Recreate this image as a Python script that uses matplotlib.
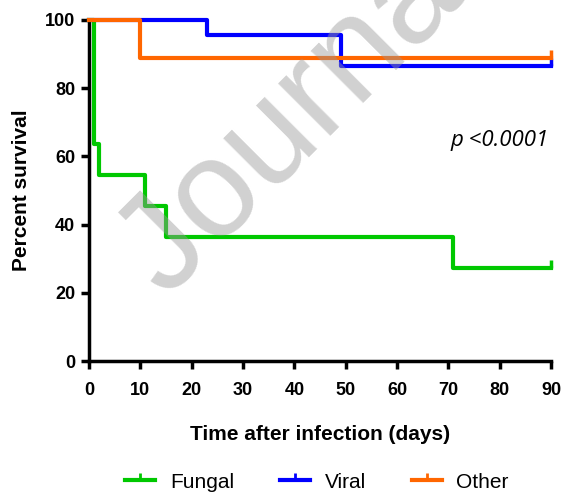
import matplotlib
matplotlib.use("Agg")
import matplotlib.pyplot as plt
from matplotlib.lines import Line2D

# Kaplan-Meier step data (time in days, percent survival)
fungal_t = [0, 1, 2, 11, 15, 71, 90]
fungal_s = [100, 63.6, 54.5, 45.5, 36.4, 27.3, 27.3]
viral_t = [0, 23, 49, 90]
viral_s = [100, 95.5, 86.4, 86.4]
other_t = [0, 10, 90]
other_s = [100, 88.9, 88.9]

series = [("Fungal", fungal_t, fungal_s, "#00c800"),
          ("Viral", viral_t, viral_s, "#0000ff"),
          ("Other", other_t, other_s, "#ff6600")]

xticks = [0, 10, 20, 30, 40, 50, 60, 70, 80, 90]
yticks = [0, 20, 40, 60, 80, 100]

fig = plt.figure(figsize=(5.63, 4.95), dpi=100)
ax = fig.add_axes([89/563, 1-361/495, (551-89)/563, (361-20)/495])

for name, t, s, c in series:
    ax.step(t, s, where="post", color=c, lw=3, clip_on=False, zorder=3)
    ax.plot([t[-1]], [s[-1]], marker=2, color=c, ms=6, mew=2.5,
            clip_on=False, zorder=3)

ax.set_xlim(0, 90)
ax.set_ylim(0, 100)
ax.set_xticks(xticks)
ax.set_yticks(yticks)
for sp in ["top", "right"]:
    ax.spines[sp].set_visible(False)
for sp in ["left", "bottom"]:
    ax.spines[sp].set_linewidth(2.5)
ax.tick_params(width=2.5, length=6, direction="out", labelsize=13)
ax.tick_params(axis="x", pad=9)
ax.tick_params(axis="y", pad=4)
for lab in ax.get_xticklabels() + ax.get_yticklabels():
    lab.set_fontweight("bold")
    lab.set_family("Liberation Sans")
ax.patch.set_alpha(0)

ax.set_xlabel("Time after infection (days)", fontsize=15, fontweight="bold",
              family="Liberation Sans", labelpad=19)
ax.set_ylabel("Percent survival", fontsize=15, fontweight="bold",
              family="Liberation Sans", labelpad=10)

ax.text(0.995, 0.648, "p <0.0001", transform=ax.transAxes, ha="right",
        va="center", fontsize=16, style="italic", family="Open Sans")

handles = [Line2D([0], [0], color=c, lw=3, marker=2, ms=5, mew=2)
           for _, _, _, c in series]
fig.legend(handles, [n for n, _, _, _ in series], loc="center",
           bbox_to_anchor=(0.563, 0.026), ncol=3, frameon=False,
           prop={"family": "Liberation Sans", "size": 15},
           handlelength=1.45, columnspacing=2.2, handletextpad=0.7,
           borderpad=0)

# watermark (drawn on top, semi-transparent)
fig.text(0.535, 0.775, "Journal", fontsize=100, color="#999999", alpha=0.45,
         rotation=45, ha="center", va="center", family="Liberation Sans",
         zorder=10)

fig.savefig("out.png", dpi=100)
